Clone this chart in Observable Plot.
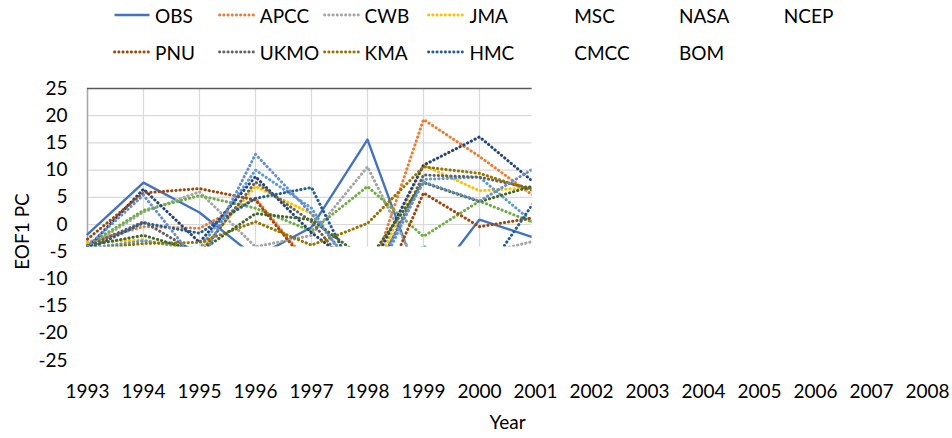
<!DOCTYPE html>
<html><head><meta charset="utf-8">
<script src="https://cdn.jsdelivr.net/npm/d3@7"></script>
<script src="https://cdn.jsdelivr.net/npm/@observablehq/plot@0.6"></script>
<style>
body{margin:0;background:#fff;font-family:Lato,"Open Sans",sans-serif;}
#legend{position:relative;width:952px;height:70px;font-size:19px;color:#000;}
.item{position:absolute;display:flex;align-items:center;height:26px;white-space:nowrap;}
.item svg{margin-right:4px;}
#chart{width:952px;height:368px;}
</style></head><body>
<div id="legend"></div>
<div id="chart"></div>
<script>
const years = [1993, 1994, 1995, 1996, 1997, 1998, 1999, 2000, 2001];
const tickYears = [1993,1994,1995,1996,1997,1998,1999,2000,2001,2002,2003,2004,2005,2006,2007,2008];
const yTicks = [-25,-20,-15,-10,-5,0,5,10,15,20,25];
const seriesNames = ["OBS","APCC","CWB","JMA","MSC","NASA","NCEP","PNU","UKMO","KMA","HMC","CMCC","BOM"];
const seriesColors = ["#4472C4","#ED7D31","#A5A5A5","#FFC000","#5B9BD5","#70AD47","#264478","#9E480E","#636363","#997300","#255E91","#43682B","#698ED0"];
const legendSwatch = [true,true,true,true,false,false,false,true,true,true,true,false,false];

const OBS  = [-1.8,  7.7,  2.2, -6.0, -0.5,  15.6, -12.5,  0.9, -2.5];
const APCC = [-3.3, -0.4, -0.7,  4.8, -7.8, -11.4,  19.3, 12.5,  5.0];
const CWB  = [-4.2,  2.3,  6.0, -4.1, -2.0,  10.6, -10.0, -5.5, -3.0];
const JMA  = [-3.3, -2.8, -5.0,  7.0,  2.0, -11.0,  10.9,  6.2,  6.8];
const MSC  = [-4.4, -3.0, -4.5, 10.0,  3.0, -13.0,   8.3,  8.7,  0.0];
const NASA = [-3.8,  2.6,  5.3,  3.0, -1.2,   7.0,  -2.2,  4.3,  0.2];
const NCEP = [-4.3,  6.5, -3.3,  8.8, -1.5,  -9.3,  10.9, 16.1,  7.5];
const PNU  = [-2.7,  5.8,  6.6,  4.5, -8.2, -18.0,   5.8, -0.4,  1.3];
const UKMO = [-4.0,  0.5, -5.5,  7.8,  0.5, -12.0,   9.1,  8.7,  6.5];
const KMA  = [-4.5, -3.5, -3.3,  0.5, -3.8,   0.2,  10.6,  9.4,  6.1];
const HMC  = [-4.6,  0.3, -1.6,  4.8,  6.8, -13.7,  -4.0,-10.6,  4.5];
const CMCC = [-3.9, -2.0, -5.0,  2.0,  0.9,  -6.7,   7.7,  4.2,  7.2];
const BOM  = [-4.0,  5.4, -7.5, 12.9,  2.0, -11.0,   7.8,  4.3, 10.5];
const seriesValues = [OBS,APCC,CWB,JMA,MSC,NASA,NCEP,PNU,UKMO,KMA,HMC,CMCC,BOM];

// visible window of the (broken) Excel plot area, in data units
const clipXMax = 2000.94;
const clipYMin = -4.15;

const rows = [];
seriesNames.forEach((s, i) => years.forEach((yr, j) => rows.push({series: s, year: yr, value: seriesValues[i][j]})));

// legend
const legend = document.getElementById("legend");
seriesNames.forEach((s, i) => {
  const row = i < 7 ? 0 : 1, col = i < 7 ? i : i - 7;
  const el = document.createElement("div");
  el.className = "item";
  el.style.left = (113 + col * 104.8) + "px";
  el.style.top = (row === 0 ? 2 : 39) + "px";
  const dotted = i !== 0;
  const sw = legendSwatch[i]
    ? `<svg width="38" height="10"><line x1="1.5" y1="5" x2="36.5" y2="5" stroke="${seriesColors[i]}" stroke-width="${dotted ? 2.8 : 2.4}" ${dotted ? 'stroke-dasharray="0.3 3.9" stroke-linecap="round"' : ''}/></svg>`
    : `<svg width="38" height="10"></svg>`;
  el.innerHTML = sw + `<span>${s}</span>`;
  legend.appendChild(el);
});

const C = "clipped";
const plot = Plot.plot({
  width: 952, height: 368,
  marginLeft: 87, marginRight: 25, marginTop: 18, marginBottom: 78,
  style: {fontFamily: "Lato, 'Open Sans', sans-serif", fontSize: "19px", color: "#000", background: "#fff"},
  x: {domain: [1993, 2008]},
  y: {domain: [-25, 25]},
  color: {domain: seriesNames, range: seriesColors},
  marks: [
    Plot.gridX(tickYears, {stroke: "#D9D9D9", strokeOpacity: 1, strokeWidth: 1.2, ariaDescription: C}),
    Plot.gridY(yTicks, {stroke: "#D9D9D9", strokeOpacity: 1, strokeWidth: 1.2, ariaDescription: C}),
    Plot.ruleX([1993], {stroke: "#A6A6A6", strokeWidth: 1.5, ariaDescription: C}),
    Plot.ruleY([25], {stroke: "#595959", strokeWidth: 1.5, ariaDescription: C}),
    Plot.lineY(rows.filter(d => d.series === "OBS"), {x: "year", y: "value", z: "series", stroke: "series", strokeWidth: 2.4, ariaDescription: C}),
    Plot.lineY(rows.filter(d => d.series !== "OBS"), {x: "year", y: "value", z: "series", stroke: "series", strokeWidth: 3, strokeDasharray: "0.3 3.9", strokeLinecap: "round", ariaDescription: C}),
    Plot.axisX(tickYears, {tickSize: 0, tickPadding: 24, tickFormat: d => String(d), label: null}),
    Plot.axisY(yTicks, {tickSize: 0, tickPadding: 20, tickFormat: d => String(d), label: null}),
    Plot.text(["Year"], {frameAnchor: "bottom", dy: 62, lineAnchor: "middle", fill: "#000"}),
    Plot.text(["EOF1 PC"], {frameAnchor: "left", dx: -65, dy: 7, rotate: -90, lineAnchor: "middle", textAnchor: "middle", fill: "#000"})
  ]
});

const sx = plot.scale("x"), sy = plot.scale("y");
const x0 = sx.apply(1993) - 1, x1 = sx.apply(clipXMax);
const y0 = sy.apply(25) - 1, y1 = sy.apply(clipYMin);
const svg = d3.select(plot.tagName.toLowerCase() === "svg" ? plot : plot.querySelector("svg"));
svg.insert("defs", ":first-child").append("clipPath").attr("id", "plotclip")
  .attr("clipPathUnits", "userSpaceOnUse")
  .append("rect").attr("x", x0).attr("y", y0).attr("width", x1 - x0).attr("height", y1 - y0);
svg.selectAll("g[aria-description='clipped']").each(function() {
  const g = this;
  const wrap = document.createElementNS("http://www.w3.org/2000/svg", "g");
  wrap.setAttribute("clip-path", "url(#plotclip)");
  g.parentNode.insertBefore(wrap, g);
  wrap.appendChild(g);
});
document.getElementById("chart").appendChild(plot);
</script>
</body></html>
